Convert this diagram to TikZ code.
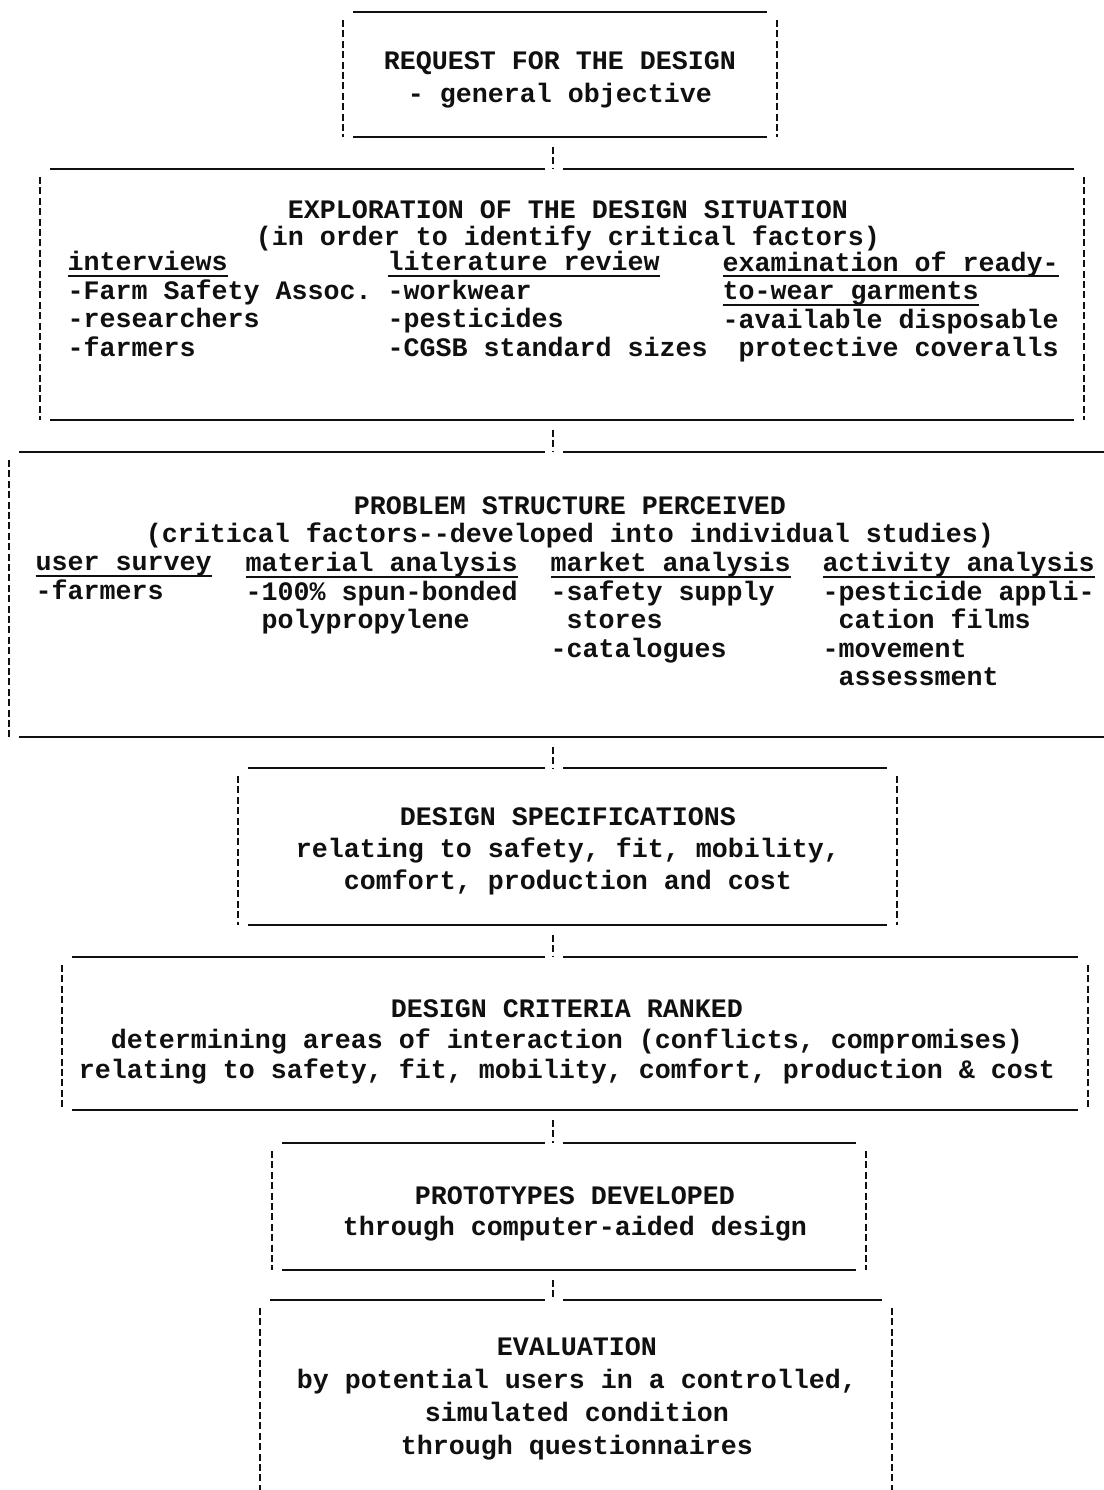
\documentclass[tikz,border=0pt]{standalone}
\usepackage{fontspec}
\setmonofont{Liberation Mono}
\usetikzlibrary{calc, fit}
\definecolor{typeink}{HTML}{101010}
\newsavebox{\hdrbox}
\newcommand{\hdr}[1]{\sbox\hdrbox{#1}\rlap{\rule[-2.2pt]{\wd\hdrbox}{0.8pt}}\usebox\hdrbox}
\tikzset{
	stage/.style={inner sep=0pt, outer sep=0pt},
	rule/.style={draw=typeink, line width=1pt},
	bar/.style={draw=typeink, line width=1.1pt, dash pattern=on 2.6pt off 1.3pt},
	head/.style={align=center, inner sep=0pt, text=typeink,
		font=\ttfamily\bfseries\fontsize{10}{#1}\selectfont},
	head/.default=11.6pt,
	column/.style={anchor=north west, align=left, inner sep=0pt, text=typeink,
		font=\ttfamily\bfseries\fontsize{10}{10.7}\selectfont, execute at begin node=\strut}
}

\begin{document}
\begin{tikzpicture}[x=0.375pt, y=-0.375pt]
	\clip (0,0) rectangle (1104,1490);
	\coordinate (spine) at (553,0);

	\node[stage, fit={(343,12) (777,137)}] (request) {};
	\node[stage, fit={(40,169) (1084,420)}] (explore) {};
	\node[stage, fit={(9,452) (1125,737)}] (problem) {};
	\node[stage, fit={(238,768) (897,925)}] (specs) {};
	\node[stage, fit={(62,957) (1088,1110)}] (criteria) {};
	\node[stage, fit={(272,1143) (866,1270)}] (proto) {};
	\node[stage, fit={(260,1300) (892,1530)}] (evaluate) {};

	\node[head=12.4pt] (requestText) at (560,80) {REQUEST FOR THE DESIGN\\- general objective};

	\node[head=10.1pt] (exploreText) at (568,226) {EXPLORATION OF THE DESIGN SITUATION\\(in order to identify critical factors)};
	\node[column] (interviews) at (67,251) {\hdr{interviews}\\-Farm Safety Assoc.\\-researchers\\-farmers};
	\node[column] (literature) at (387,251) {\hdr{literature review}\\-workwear\\-pesticides\\-CGSB standard sizes};
	\node[column] (garments) at (722,251) {\hdr{examination of ready-}\\\hdr{to-wear garments}\\-available disposable\\~protective coveralls};

	\node[head=10.5pt] (problemText) at (570,522) {PROBLEM STRUCTURE PERCEIVED\\(critical factors--developed into individual studies)};
	\node[column] (survey) at (35,556) {\hdr{user survey}\\-farmers};
	\node[column] (material) at (245,552) {\hdr{material analysis}\\-100\% spun-bonded\\~polypropylene};
	\node[column] (market) at (550,552) {\hdr{market analysis}\\-safety supply\\~stores\\-catalogues};
	\node[column] (activity) at (822,552) {\hdr{activity analysis}\\-pesticide appli-\\~cation films\\-movement\\~assessment};

	\node[head=12pt] (specsText) at (568,851) {DESIGN SPECIFICATIONS\\relating to safety, fit, mobility,\\comfort, production and cost};
	\node[head=11.4pt] (criteriaText) at (567,1042) {DESIGN CRITERIA RANKED\\determining areas of interaction (conflicts, compromises)\\relating to safety, fit, mobility, comfort, production \& cost};
	\node[head=11.6pt] (protoText) at (575,1214) {PROTOTYPES DEVELOPED\\through computer-aided design};
	\node[head=12.4pt] (evaluateText) at (577,1399) {EVALUATION\\by potential users in a controlled,\\simulated condition\\through questionnaires};

	\foreach \b in {request, explore, problem, specs, criteria, proto, evaluate} {
		\draw[bar] ($(\b.north west)+(0,8)$) -- (\b.south west);
		\draw[bar] ($(\b.north east)+(0,8)$) -- (\b.south east);
		\draw[rule] ($(\b.south west)+(10,0)$) -- ($(\b.south east)+(-10,0)$);
	}
	\draw[rule] ($(request.north west)+(10,0)$) -- ($(request.north east)+(-10,0)$);
	\foreach \a/\b in {request/explore, explore/problem, problem/specs, specs/criteria, criteria/proto, proto/evaluate} {
		\draw[bar] ($(\a.south -| spine)+(0,10)$) -- (\b.north -| spine);
		\draw[rule] ($(\b.north west)+(10,0)$) -- ($(\b.north -| spine)+(-8,0)$)
			($(\b.north -| spine)+(10,0)$) -- ($(\b.north east)+(-10,0)$);
	}
\end{tikzpicture}
\end{document}
